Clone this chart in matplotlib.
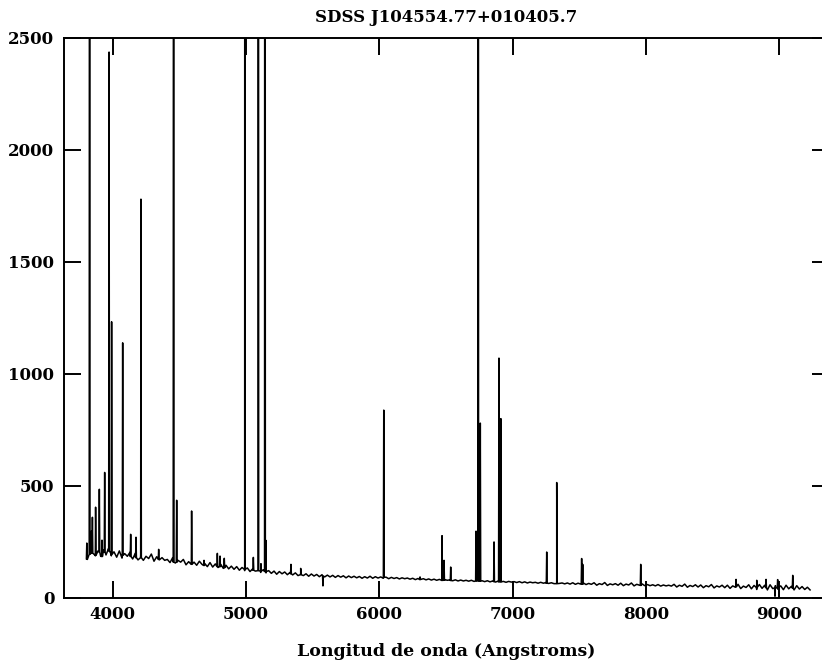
import numpy as np
import matplotlib
matplotlib.use('Agg')
import matplotlib.pyplot as plt

cont_wave = np.arange(3810, 9231, 20)
cont_flux = [
    172, 200, 218, 188, 210, 186, 214, 192, 222, 188,
    206, 182, 210, 178, 198, 186, 204, 174, 200, 170,
    192, 168, 186, 176, 196, 164, 184, 170, 180, 168,
    172, 158, 180, 156, 168, 160, 172, 148, 162, 152,
    160, 146, 164, 150, 154, 140, 158, 138, 152, 136,
    150, 132, 146, 130, 142, 128, 140, 124, 136, 122,
    134, 118, 130, 120, 128, 114, 126, 112, 122, 110,
    120, 106, 118, 108, 116, 104, 114, 103, 112, 100,
    110, 100, 108, 97, 107, 98, 105, 95, 104, 94,
    102, 94, 101, 92, 100, 93, 99, 90, 98, 91,
    97, 90, 96, 88, 95, 89, 97, 88, 95, 89,
    94, 88, 93, 86, 92, 87, 91, 85, 90, 86,
    89, 84, 88, 82, 87, 83, 86, 81, 85, 80,
    84, 79, 83, 78, 82, 79, 81, 77, 81, 76,
    80, 76, 79, 75, 79, 74, 78, 75, 77, 73,
    77, 72, 76, 71, 75, 72, 74, 70, 74, 71,
    73, 69, 73, 68, 72, 67, 71, 68, 70, 66,
    70, 66, 69, 65, 68, 64, 68, 65, 67, 63,
    67, 62, 68, 61, 66, 62, 67, 60, 65, 61,
    68, 57, 64, 60, 69, 56, 63, 59, 64, 57,
    66, 55, 62, 58, 67, 54, 61, 57, 63, 55,
    60, 55, 59, 54, 60, 53, 58, 54, 57, 53,
    61, 49, 57, 52, 62, 48, 56, 51, 59, 49,
    58, 46, 55, 50, 60, 45, 54, 49, 57, 46,
    57, 43, 54, 48, 61, 42, 53, 47, 59, 41,
    56, 38, 60, 43, 57, 36, 59, 42, 55, 39,
    54, 37, 57, 41, 52, 36, 55, 40, 51, 38,
    48, 36,
]

# Emission lines (and a few sky residual dips): centre, peak, local continuum
line_wave = [3806, 3827, 3842, 3848, 3872, 3900, 3920, 3940, 3973, 3992,
             4075, 4135, 4175, 4212, 4345, 4457, 4480, 4592, 4685, 4785,
             4805, 4837, 4991, 5055, 5092, 5112, 5142, 5149, 5337, 5410,
             5577, 6033, 6305, 6470, 6485, 6535, 6725, 6741, 6757, 6860,
             6897, 6911, 7255, 7330, 7517, 7525, 7960, 8675, 8830, 8900,
             8967, 8987, 9100]
line_peak = [245, 6000, 300, 360, 405, 485, 258, 560, 2435, 1232,
             1138, 284, 271, 1779, 217, 6000, 436, 388, 168, 199,
             187, 177, 9000, 181, 9000, 153, 9000, 257, 150, 132,
             54, 838, 94, 278, 168, 138, 298, 9000, 780, 250,
             1070, 800, 205, 515, 176, 150, 150, 83, 79, 83,
             8, 82, 101]
line_base = [175, 195, 200, 200, 190, 205, 185, 205, 210, 195,
             190, 185, 180, 180, 172, 160, 160, 150, 145, 140,
             140, 135, 128, 124, 122, 120, 118, 118, 108, 104,
             98, 92, 82, 79, 79, 78, 76, 76, 75, 73,
             72, 72, 66, 64, 62, 62, 56, 50, 47, 46,
             45, 45, 44]

# merge continuum and line profiles into one spectrum
half_width = 3
w_all = list(cont_wave)
f_all = list(cont_flux)
for w, p, b in zip(line_wave, line_peak, line_base):
    w_all += [w - half_width, w, w + half_width]
    f_all += [b, p, b]
order = np.argsort(w_all, kind='stable')
wave = np.array(w_all)[order]
flux = np.array(f_all)[order]

plt.rcParams['font.family'] = 'DejaVu Serif'
plt.rcParams['font.weight'] = 'bold'

fig = plt.figure(figsize=(8.22, 6.62), dpi=100)
ax = fig.add_axes([64 / 822, 64 / 662, 765 / 822, 560.5 / 662])
ax.plot(wave, flux, color='black', lw=1.1)

ax.set_xlim(3635, 9372)
ax.set_ylim(0, 2500)
ax.set_xticks([4000, 5000, 6000, 7000, 8000, 9000])
ax.set_yticks([0, 500, 1000, 1500, 2000, 2500])
ax.tick_params(direction='in', length=12.5, width=1.4, top=True, right=True,
               labelsize=12)
ax.tick_params(axis='y', pad=7)
ax.tick_params(axis='x', pad=6)
for s in ax.spines.values():
    s.set_linewidth(1.4)
# the right frame edge falls outside the picture
ax.spines['right'].set_visible(False)

fig.text(446 / 822, 1 - 17 / 662, 'SDSS J104554.77+010405.7', ha='center',
         va='center', fontsize=12, fontweight='bold')
fig.text(446.5 / 822, 1 - 651 / 662, 'Longitud de onda (Angstroms)', ha='center',
         va='center', fontsize=12.5, fontweight='bold')

fig.savefig('out.png', dpi=100)
